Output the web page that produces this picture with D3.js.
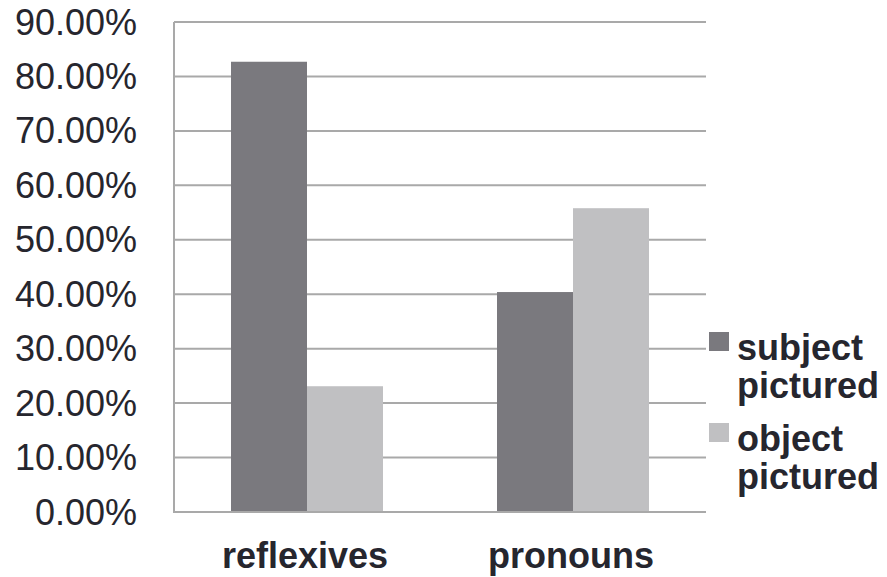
<!DOCTYPE html>
<html>
<head>
<meta charset="utf-8">
<script src="https://cdn.jsdelivr.net/npm/d3@7"></script>
<style>
  html, body { margin: 0; padding: 0; background: #fff; }
  svg { display: block; }
  text { font-family: "Liberation Sans", Arial, Helvetica, sans-serif; fill: #26262e; }
</style>
</head>
<body>
<svg id="chart" width="887" height="577"></svg>
<script>
// Share of responses by pronoun type
const categories = ["reflexives", "pronouns"];
const seriesNames = ["subject pictured", "object pictured"];
const subjectPictured = [82.7, 40.4];
const objectPictured = [23.1, 55.8];
const yTicks = [0, 10, 20, 30, 40, 50, 60, 70, 80, 90];
const seriesColors = ["#7a797e", "#c0c0c2"];

const svg = d3.select("#chart");
const plot = { left: 174, right: 706, top: 22, bottom: 512 };

const x = d3.scaleBand()
  .domain(categories)
  .range([plot.left, plot.right])
  .paddingInner(0.4286)
  .paddingOuter(0.2143);

const xInner = d3.scaleBand()
  .domain(seriesNames)
  .range([0, x.bandwidth()]);

const y = d3.scaleLinear()
  .domain([0, 90])
  .range([plot.bottom, plot.top]);

// Horizontal gridlines
svg.append("g")
  .selectAll("line")
  .data(yTicks)
  .join("line")
  .attr("x1", plot.left)
  .attr("x2", plot.right)
  .attr("y1", d => y(d))
  .attr("y2", d => y(d))
  .attr("stroke", "#a9a9a9")
  .attr("stroke-width", 2);

// Y axis line
svg.append("line")
  .attr("x1", plot.left).attr("x2", plot.left)
  .attr("y1", plot.top).attr("y2", plot.bottom)
  .attr("stroke", "#a9a9a9")
  .attr("stroke-width", 2);

// Bars
const rows = categories.map((c, i) => ({
  category: c,
  values: [
    { series: seriesNames[0], value: subjectPictured[i], color: seriesColors[0] },
    { series: seriesNames[1], value: objectPictured[i], color: seriesColors[1] }
  ]
}));

svg.append("g")
  .selectAll("g")
  .data(rows)
  .join("g")
  .attr("transform", d => `translate(${x(d.category)},0)`)
  .selectAll("rect")
  .data(d => d.values)
  .join("rect")
  .attr("x", d => xInner(d.series))
  .attr("width", xInner.bandwidth())
  .attr("y", d => y(d.value))
  .attr("height", d => y(0) - y(d.value))
  .attr("fill", d => d.color);

// Baseline drawn over bars
svg.append("line")
  .attr("x1", plot.left - 1).attr("x2", plot.right)
  .attr("y1", plot.bottom).attr("y2", plot.bottom)
  .attr("stroke", "#a9a9a9")
  .attr("stroke-width", 2);

// Y tick labels
svg.append("g")
  .selectAll("text")
  .data(yTicks)
  .join("text")
  .attr("x", 137)
  .attr("y", d => y(d))
  .attr("dy", "0.35em")
  .attr("text-anchor", "end")
  .attr("font-size", 36)
  .text(d => d.toFixed(2) + "%");

// Category labels
svg.append("g")
  .selectAll("text")
  .data(categories)
  .join("text")
  .attr("x", d => x(d) + x.bandwidth() / 2 - 2)
  .attr("y", 568)
  .attr("text-anchor", "middle")
  .attr("font-size", 36)
  .attr("font-weight", "bold")
  .text(d => d);

// Legend
const legendTop = [332, 423];
const legend = svg.append("g")
  .selectAll("g")
  .data(seriesNames)
  .join("g")
  .attr("transform", (d, i) => `translate(709,${legendTop[i]})`);

legend.append("rect")
  .attr("width", 20)
  .attr("height", 19)
  .attr("fill", (d, i) => seriesColors[i]);

legend.append("text")
  .attr("x", 28)
  .attr("y", 28)
  .attr("font-size", 36)
  .attr("font-weight", "bold")
  .selectAll("tspan")
  .data(d => d.split(" "))
  .join("tspan")
  .attr("x", 28)
  .attr("dy", (d, i) => i === 0 ? 0 : 38)
  .text(d => d);
</script>
</body>
</html>
